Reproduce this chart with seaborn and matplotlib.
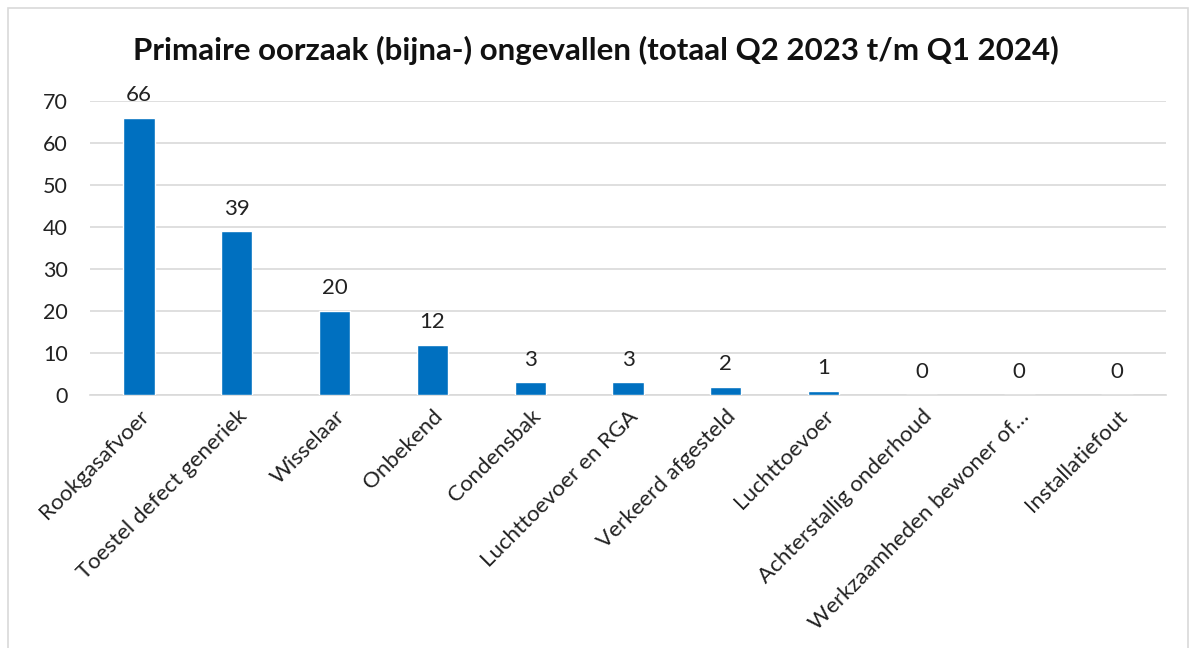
import matplotlib
matplotlib.use("Agg")
import matplotlib.pyplot as plt
import seaborn as sns
import pandas as pd
from matplotlib.patches import Rectangle

categories = ["Rookgasafvoer", "Toestel defect generiek", "Wisselaar", "Onbekend",
              "Condensbak", "Luchttoevoer en RGA", "Verkeerd afgesteld", "Luchttoevoer",
              "Achterstallig onderhoud", "Werkzaamheden bewoner of…", "Installatiefout"]
values = [66, 39, 20, 12, 3, 3, 2, 1, 0, 0, 0]
yticks = [0, 10, 20, 30, 40, 50, 60, 70]
title = "Primaire oorzaak (bijna-) ongevallen (totaal Q2 2023 t/m Q1 2024)"

sns.set_theme(style="white")
plt.rcParams['font.family'] = ['Lato', 'DejaVu Sans']

df = pd.DataFrame({"cat": categories, "val": values})

fig = plt.figure(figsize=(11.92, 6.48), dpi=100)
ax = fig.add_axes([90/1192, 1-395/648, (1166-90)/1192, (395-101)/648])

sns.barplot(data=df, x="cat", y="val", color="#0070C0", width=0.32, saturation=1, ax=ax, zorder=3)
for c in ax.containers:
    ax.bar_label(c, padding=9, fontsize=16, color="#222222")

ax.set_ylim(0, 70)
ax.set_yticks(yticks)
ax.set_xlim(-0.5, len(categories) - 0.5)
ax.yaxis.grid(True, color="#D9D9D9", linewidth=1.2, zorder=0)
ax.set_xlabel("")
ax.set_ylabel("")
for s in ["top", "right", "left"]:
    ax.spines[s].set_visible(False)
ax.spines["bottom"].set_color("#D9D9D9")
ax.spines["bottom"].set_linewidth(1.2)
ax.tick_params(axis="y", labelsize=15.5, colors="#222222", length=0, pad=16)
ax.tick_params(axis="x", labelsize=16, colors="#222222", length=0, pad=8)
plt.setp(ax.get_xticklabels(), rotation=45, ha="right", rotation_mode="anchor")

fig.text(0.5, 1-50/648, title, ha="center", va="center", fontsize=22.5, fontweight="bold", color="#111111")
fig.patches.append(Rectangle((8/1192, -0.05), 1180/1192, 1.05-8/648, transform=fig.transFigure,
                             fill=False, edgecolor="#D9D9D9", linewidth=1.2))

fig.savefig("out.png", dpi=100)
